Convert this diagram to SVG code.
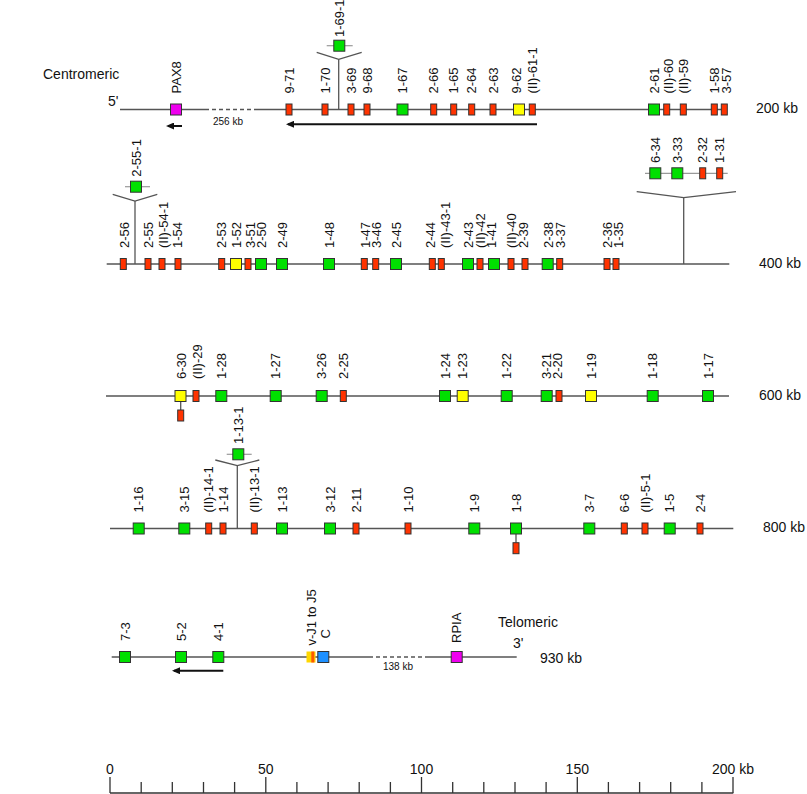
<svg xmlns="http://www.w3.org/2000/svg" width="807" height="794" viewBox="0 0 807 794">
<defs>
<style>
.t{font-family:"Liberation Sans",Arial,sans-serif;font-size:13px;fill:#111}
.b14{font-family:"Liberation Sans",Arial,sans-serif;font-size:14px;fill:#111}
.s10{font-family:"Liberation Sans",Arial,sans-serif;font-size:10px;fill:#111}
.g{fill:#00e000;stroke:#333;stroke-width:1}
.r{fill:#ff3300;stroke:#333;stroke-width:1}
.y{fill:#ffff00;stroke:#333;stroke-width:1}
.m{fill:#ee00ee;stroke:#333;stroke-width:1}
.bl{fill:#1e90ff;stroke:#333;stroke-width:1}
.chr{stroke:#555;stroke-width:1.3;fill:none}
.dash{stroke:#555;stroke-width:1.3;stroke-dasharray:4 3;fill:none}
.ins{stroke:#999;stroke-width:1.2;fill:none}
.stalk{stroke:#555;stroke-width:1.3;fill:none}
.arr{stroke:#111;stroke-width:2;fill:none;marker-end:url(#ah)}
.sc{stroke:#333;stroke-width:1.3;fill:none}
</style>
<marker id="ah" viewBox="0 0 8 7" refX="6" refY="3.5" markerWidth="8" markerHeight="7" markerUnits="userSpaceOnUse" orient="auto">
<path d="M0,0 L8,3.5 L0,7 z" fill="#111"/>
</marker>
</defs>
<rect width="807" height="794" fill="#fff"/>

<g id="connectors">
<!-- row 1 -->
<line class="chr" x1="120" y1="109.5" x2="205" y2="109.5"/>
<line class="dash" x1="205" y1="109.5" x2="255" y2="109.5"/>
<line class="chr" x1="255" y1="109.5" x2="727" y2="109.5"/>
<line class="stalk" x1="338.7" y1="109.5" x2="338.7" y2="59.3"/>
<polyline class="stalk" points="316.7,52.3 338.7,59.3 361.7,52.3"/>
<line class="ins" x1="326.7" y1="45.7" x2="352.7" y2="45.7"/>
<line class="arr" x1="182" y1="126" x2="168" y2="126"/>
<line class="arr" x1="537" y1="124.3" x2="288" y2="124.3"/>
<!-- row 2 -->
<line class="chr" x1="106.7" y1="264" x2="729.3" y2="264"/>
<line class="stalk" x1="135" y1="264" x2="135" y2="201"/>
<polyline class="stalk" points="112.7,194.3 135,201 157.3,194.3"/>
<line class="ins" x1="125" y1="186.7" x2="150" y2="186.7"/>
<line class="stalk" x1="683.7" y1="264" x2="683.7" y2="197.7"/>
<polyline class="stalk" points="636.7,191.7 683.7,197.7 736,191.7"/>
<line class="ins" x1="645" y1="173.3" x2="727.7" y2="173.3"/>
<!-- row 3 -->
<line class="chr" x1="106" y1="396" x2="729" y2="396"/>
<line class="stalk" x1="180.7" y1="401.5" x2="180.7" y2="410"/>
<!-- row 4 -->
<line class="chr" x1="110" y1="528.5" x2="733.3" y2="528.5"/>
<line class="stalk" x1="237.3" y1="528.5" x2="237.3" y2="465.7"/>
<polyline class="stalk" points="215.3,460 237.3,465.7 259.3,460"/>
<line class="ins" x1="226.7" y1="454.3" x2="251.7" y2="454.3"/>
<line class="stalk" x1="516" y1="534" x2="516" y2="542.7"/>
<!-- row 5 -->
<line class="chr" x1="111.7" y1="657" x2="369" y2="657"/>
<line class="dash" x1="369" y1="657" x2="427" y2="657"/>
<line class="chr" x1="427" y1="657" x2="516.7" y2="657"/>
<line class="arr" x1="223.3" y1="670.7" x2="174" y2="670.7"/>
</g>

<!-- free texts -->
<text class="b14" x="43" y="79">Centromeric</text>
<text class="b14" x="108" y="106">5'</text>
<text class="s10" x="228" y="125" text-anchor="middle">256 kb</text>
<text class="b14" x="756" y="113">200 kb</text>
<text class="b14" x="759" y="268">400 kb</text>
<text class="b14" x="759" y="400">600 kb</text>
<text class="b14" x="763" y="532">800 kb</text>
<text class="b14" x="498" y="627">Telomeric</text>
<text class="b14" x="513" y="648">3'</text>
<text class="b14" x="540" y="663">930 kb</text>
<text class="s10" x="383" y="670">138 kb</text>

<!-- Row 1 -->
<g id="PAX8"><rect class="m" x="170.5" y="104" width="11" height="11"/><text class="t" transform="translate(180.7,93.5) rotate(-90)">PAX8</text></g>
<g id="v9-71"><rect class="r" x="286" y="104" width="6" height="11"/><text class="t" transform="translate(293.7,93.5) rotate(-90)">9-71</text></g>
<g id="v1-70"><rect class="r" x="322" y="104" width="6" height="11"/><text class="t" transform="translate(329.7,93.5) rotate(-90)">1-70</text></g>
<g id="v1-69-1"><rect class="g" x="333.8" y="40.2" width="11" height="11"/><text class="t" transform="translate(344,37) rotate(-90)">1-69-1</text></g>
<g id="v3-69"><rect class="r" x="348" y="104" width="6" height="11"/><text class="t" transform="translate(355.7,93.5) rotate(-90)">3-69</text></g>
<g id="v9-68"><rect class="r" x="364" y="104" width="6" height="11"/><text class="t" transform="translate(371.7,93.5) rotate(-90)">9-68</text></g>
<g id="v1-67"><rect class="g" x="397" y="104" width="11" height="11"/><text class="t" transform="translate(407.2,93.5) rotate(-90)">1-67</text></g>
<g id="v2-66"><rect class="r" x="430.7" y="104" width="6" height="11"/><text class="t" transform="translate(438.4,93.5) rotate(-90)">2-66</text></g>
<g id="v1-65"><rect class="r" x="450.7" y="104" width="6" height="11"/><text class="t" transform="translate(458.4,93.5) rotate(-90)">1-65</text></g>
<g id="v2-64"><rect class="r" x="468.7" y="104" width="6" height="11"/><text class="t" transform="translate(476.4,93.5) rotate(-90)">2-64</text></g>
<g id="v2-63"><rect class="r" x="490" y="104" width="6" height="11"/><text class="t" transform="translate(497.7,93.5) rotate(-90)">2-63</text></g>
<g id="v9-62"><rect class="y" x="513.5" y="104" width="11" height="11"/><text class="t" transform="translate(520.7,93.5) rotate(-90)">9-62</text></g>
<g id="vII-61-1"><rect class="r" x="529.3" y="104" width="6" height="11"/><text class="t" transform="translate(537,93.5) rotate(-90)">(II)-61-1</text></g>
<g id="v2-61"><rect class="g" x="648.5" y="104" width="11" height="11"/><text class="t" transform="translate(658.7,93.5) rotate(-90)">2-61</text></g>
<g id="vII-60"><rect class="r" x="663.7" y="104" width="6" height="11"/><text class="t" transform="translate(672.7,93.5) rotate(-90)">(II)-60</text></g>
<g id="vII-59"><rect class="r" x="680.3" y="104" width="6" height="11"/><text class="t" transform="translate(688,93.5) rotate(-90)">(II)-59</text></g>
<g id="v1-58"><rect class="r" x="711.3" y="104" width="6" height="11"/><text class="t" transform="translate(719,93.5) rotate(-90)">1-58</text></g>
<g id="v3-57"><rect class="r" x="721.3" y="104" width="6" height="11"/><text class="t" transform="translate(730.7,93.5) rotate(-90)">3-57</text></g>

<!-- Row 2 -->
<g id="v2-56"><rect class="r" x="120.3" y="258.5" width="6" height="11"/><text class="t" transform="translate(129,248) rotate(-90)">2-56</text></g>
<g id="v2-55-1"><rect class="g" x="130.5" y="181.2" width="11" height="11"/><text class="t" transform="translate(140.7,176.7) rotate(-90)">2-55-1</text></g>
<g id="v2-55"><rect class="r" x="145" y="258.5" width="6" height="11"/><text class="t" transform="translate(152.7,248) rotate(-90)">2-55</text></g>
<g id="vII-54-1"><rect class="r" x="159" y="258.5" width="6" height="11"/><text class="t" transform="translate(167.5,248) rotate(-90)">(II)-54-1</text></g>
<g id="v1-54"><rect class="r" x="175" y="258.5" width="6" height="11"/><text class="t" transform="translate(182.2,248) rotate(-90)">1-54</text></g>
<g id="v2-53"><rect class="r" x="218.7" y="258.5" width="6" height="11"/><text class="t" transform="translate(226.4,248) rotate(-90)">2-53</text></g>
<g id="v1-52"><rect class="y" x="230.5" y="258.5" width="11" height="11"/><text class="t" transform="translate(241,248) rotate(-90)">1-52</text></g>
<g id="v3-51"><rect class="r" x="245" y="258.5" width="6" height="11"/><text class="t" transform="translate(254.7,248) rotate(-90)">3-51</text></g>
<g id="v2-50"><rect class="g" x="255.5" y="258.5" width="11" height="11"/><text class="t" transform="translate(266.2,248) rotate(-90)">2-50</text></g>
<g id="v2-49"><rect class="g" x="276.5" y="258.5" width="11" height="11"/><text class="t" transform="translate(286.5,248) rotate(-90)">2-49</text></g>
<g id="v1-48"><rect class="g" x="323.5" y="258.5" width="11" height="11"/><text class="t" transform="translate(333.7,248) rotate(-90)">1-48</text></g>
<g id="v1-47"><rect class="r" x="361.3" y="258.5" width="6" height="11"/><text class="t" transform="translate(369.7,248) rotate(-90)">1-47</text></g>
<g id="v3-46"><rect class="r" x="372.7" y="258.5" width="6" height="11"/><text class="t" transform="translate(381.4,248) rotate(-90)">3-46</text></g>
<g id="v2-45"><rect class="g" x="390.5" y="258.5" width="11" height="11"/><text class="t" transform="translate(400.7,248) rotate(-90)">2-45</text></g>
<g id="v2-44"><rect class="r" x="429.3" y="258.5" width="6" height="11"/><text class="t" transform="translate(435.2,248) rotate(-90)">2-44</text></g>
<g id="vII-43-1"><rect class="r" x="438.3" y="258.5" width="6" height="11"/><text class="t" transform="translate(449.7,248) rotate(-90)">(II)-43-1</text></g>
<g id="v2-43"><rect class="g" x="462.5" y="258.5" width="11" height="11"/><text class="t" transform="translate(472.7,248) rotate(-90)">2-43</text></g>
<g id="vII-42"><rect class="r" x="477" y="258.5" width="6" height="11"/><text class="t" transform="translate(484.7,248) rotate(-90)">(II)-42</text></g>
<g id="v1-41"><rect class="g" x="488.5" y="258.5" width="11" height="11"/><text class="t" transform="translate(496.4,248) rotate(-90)">1-41</text></g>
<g id="vII-40"><rect class="r" x="508" y="258.5" width="6" height="11"/><text class="t" transform="translate(516,248) rotate(-90)">(II)-40</text></g>
<g id="v2-39"><rect class="r" x="522" y="258.5" width="6" height="11"/><text class="t" transform="translate(528.2,248) rotate(-90)">2-39</text></g>
<g id="v2-38"><rect class="g" x="542.2" y="258.5" width="11" height="11"/><text class="t" transform="translate(552.7,248) rotate(-90)">2-38</text></g>
<g id="v3-37"><rect class="r" x="556.7" y="258.5" width="6" height="11"/><text class="t" transform="translate(564.7,248) rotate(-90)">3-37</text></g>
<g id="v2-36"><rect class="r" x="604" y="258.5" width="6" height="11"/><text class="t" transform="translate(611.5,248) rotate(-90)">2-36</text></g>
<g id="v1-35"><rect class="r" x="613" y="258.5" width="6" height="11"/><text class="t" transform="translate(622.7,248) rotate(-90)">1-35</text></g>
<g id="v6-34"><rect class="g" x="649.8" y="167.8" width="11" height="11"/><text class="t" transform="translate(660,163) rotate(-90)">6-34</text></g>
<g id="v3-33"><rect class="g" x="671.8" y="167.8" width="11" height="11"/><text class="t" transform="translate(682,163) rotate(-90)">3-33</text></g>
<g id="v2-32"><rect class="r" x="699.7" y="167.8" width="6" height="11"/><text class="t" transform="translate(707.4,163) rotate(-90)">2-32</text></g>
<g id="v1-31"><rect class="r" x="716.7" y="167.8" width="6" height="11"/><text class="t" transform="translate(724.4,163) rotate(-90)">1-31</text></g>

<!-- Row 3 -->
<g id="v6-30"><rect class="y" x="175" y="390.5" width="11" height="11"/><rect class="r" x="177.7" y="410" width="6" height="11"/><text class="t" transform="translate(185.7,379) rotate(-90)">6-30</text></g>
<g id="vII-29"><rect class="r" x="193" y="390.5" width="6" height="11"/><text class="t" transform="translate(202.2,379) rotate(-90)">(II)-29</text></g>
<g id="v1-28"><rect class="g" x="215.8" y="390.5" width="11" height="11"/><text class="t" transform="translate(226,379) rotate(-90)">1-28</text></g>
<g id="v1-27"><rect class="g" x="270.2" y="390.5" width="11" height="11"/><text class="t" transform="translate(280.4,379) rotate(-90)">1-27</text></g>
<g id="v3-26"><rect class="g" x="316.2" y="390.5" width="11" height="11"/><text class="t" transform="translate(326.4,379) rotate(-90)">3-26</text></g>
<g id="v2-25"><rect class="r" x="340.3" y="390.5" width="6" height="11"/><text class="t" transform="translate(348,379) rotate(-90)">2-25</text></g>
<g id="v1-24"><rect class="g" x="439.5" y="390.5" width="11" height="11"/><text class="t" transform="translate(449.7,379) rotate(-90)">1-24</text></g>
<g id="v1-23"><rect class="y" x="457.2" y="390.5" width="11" height="11"/><text class="t" transform="translate(467.4,379) rotate(-90)">1-23</text></g>
<g id="v1-22"><rect class="g" x="501.2" y="390.5" width="11" height="11"/><text class="t" transform="translate(511.4,379) rotate(-90)">1-22</text></g>
<g id="v3-21"><rect class="g" x="541.2" y="390.5" width="11" height="11"/><text class="t" transform="translate(550.7,379) rotate(-90)">3-21</text></g>
<g id="v2-20"><rect class="r" x="556" y="390.5" width="6" height="11"/><text class="t" transform="translate(562.4,379) rotate(-90)">2-20</text></g>
<g id="v1-19"><rect class="y" x="585.5" y="390.5" width="11" height="11"/><text class="t" transform="translate(595.7,379) rotate(-90)">1-19</text></g>
<g id="v1-18"><rect class="g" x="647.2" y="390.5" width="11" height="11"/><text class="t" transform="translate(657.4,379) rotate(-90)">1-18</text></g>
<g id="v1-17"><rect class="g" x="702.5" y="390.5" width="11" height="11"/><text class="t" transform="translate(712.7,379) rotate(-90)">1-17</text></g>

<!-- Row 4 -->
<g id="v1-16"><rect class="g" x="133.2" y="523" width="11" height="11"/><text class="t" transform="translate(143.4,512.5) rotate(-90)">1-16</text></g>
<g id="v3-15"><rect class="g" x="178.8" y="523" width="11" height="11"/><text class="t" transform="translate(189,512.5) rotate(-90)">3-15</text></g>
<g id="vII-14-1"><rect class="r" x="205.7" y="523" width="6" height="11"/><text class="t" transform="translate(213.4,512.5) rotate(-90)">(II)-14-1</text></g>
<g id="v1-14"><rect class="r" x="220" y="523" width="6" height="11"/><text class="t" transform="translate(227.7,512.5) rotate(-90)">1-14</text></g>
<g id="v1-13-1"><rect class="g" x="232.8" y="448.8" width="11" height="11"/><text class="t" transform="translate(243,444) rotate(-90)">1-13-1</text></g>
<g id="vII-13-1"><rect class="r" x="251.3" y="523" width="6" height="11"/><text class="t" transform="translate(259,512.5) rotate(-90)">(II)-13-1</text></g>
<g id="v1-13"><rect class="g" x="276.5" y="523" width="11" height="11"/><text class="t" transform="translate(286.7,512.5) rotate(-90)">1-13</text></g>
<g id="v3-12"><rect class="g" x="324.5" y="523" width="11" height="11"/><text class="t" transform="translate(334.7,512.5) rotate(-90)">3-12</text></g>
<g id="v2-11"><rect class="r" x="353" y="523" width="6" height="11"/><text class="t" transform="translate(360.7,512.5) rotate(-90)">2-11</text></g>
<g id="v1-10"><rect class="r" x="405" y="523" width="6" height="11"/><text class="t" transform="translate(412.7,512.5) rotate(-90)">1-10</text></g>
<g id="v1-9"><rect class="g" x="468.8" y="523" width="11" height="11"/><text class="t" transform="translate(479,512.5) rotate(-90)">1-9</text></g>
<g id="v1-8"><rect class="g" x="510.5" y="523" width="11" height="11"/><rect class="r" x="513" y="542.7" width="6" height="11"/><text class="t" transform="translate(520.7,512.5) rotate(-90)">1-8</text></g>
<g id="v3-7"><rect class="g" x="583.8" y="523" width="11" height="11"/><text class="t" transform="translate(594,512.5) rotate(-90)">3-7</text></g>
<g id="v6-6"><rect class="r" x="621.3" y="523" width="6" height="11"/><text class="t" transform="translate(629,512.5) rotate(-90)">6-6</text></g>
<g id="vII-5-1"><rect class="r" x="642" y="523" width="6" height="11"/><text class="t" transform="translate(649.7,512.5) rotate(-90)">(II)-5-1</text></g>
<g id="v1-5"><rect class="g" x="664.2" y="523" width="11" height="11"/><text class="t" transform="translate(674.4,512.5) rotate(-90)">1-5</text></g>
<g id="v2-4"><rect class="r" x="697" y="523" width="6" height="11"/><text class="t" transform="translate(704.7,512.5) rotate(-90)">2-4</text></g>

<!-- Row 5 -->
<g id="v7-3"><rect class="g" x="119.5" y="651.5" width="11" height="11"/><text class="t" transform="translate(129.7,641) rotate(-90)">7-3</text></g>
<g id="v5-2"><rect class="g" x="175.5" y="651.5" width="11" height="11"/><text class="t" transform="translate(185.7,641) rotate(-90)">5-2</text></g>
<g id="v4-1"><rect class="g" x="212.8" y="651.5" width="11" height="11"/><text class="t" transform="translate(223,641) rotate(-90)">4-1</text></g>
<g id="J1-J5"><rect x="306.5" y="651.5" width="9" height="11" fill="#ffd700"/><rect x="311.3" y="651.5" width="3" height="11" fill="#ff5a00"/><text class="t" transform="translate(316.4,645.5) rotate(-90)">v-J1 to J5</text></g>
<g id="C"><rect class="bl" x="317.8" y="651.5" width="11" height="11"/><text class="t" transform="translate(330,638.5) rotate(-90)">C</text></g>
<g id="RPIA"><rect class="m" x="451.2" y="651.5" width="11" height="11"/><text class="t" transform="translate(461.4,643) rotate(-90)">RPIA</text></g>

<!-- Scale -->
<g id="scale">
<line class="sc" x1="110" y1="793" x2="733.3" y2="793"/>
<path class="sc" d="M110,777V793 M141.2,782V793 M172.3,782V793 M203.5,782V793 M234.6,782V793 M265.8,777V793 M296.9,782V793 M328.1,782V793 M359.2,782V793 M390.4,782V793 M421.5,777V793 M452.7,782V793 M483.8,782V793 M515,782V793 M546.1,782V793 M577.3,777V793 M608.4,782V793 M639.6,782V793 M670.7,782V793 M701.9,782V793 M733,777V793"/>
<text class="b14" x="110" y="774" text-anchor="middle">0</text>
<text class="b14" x="265.8" y="774" text-anchor="middle">50</text>
<text class="b14" x="421.5" y="774" text-anchor="middle">100</text>
<text class="b14" x="577.3" y="774" text-anchor="middle">150</text>
<text class="b14" x="712" y="774">200 kb</text>
</g>
</svg>
